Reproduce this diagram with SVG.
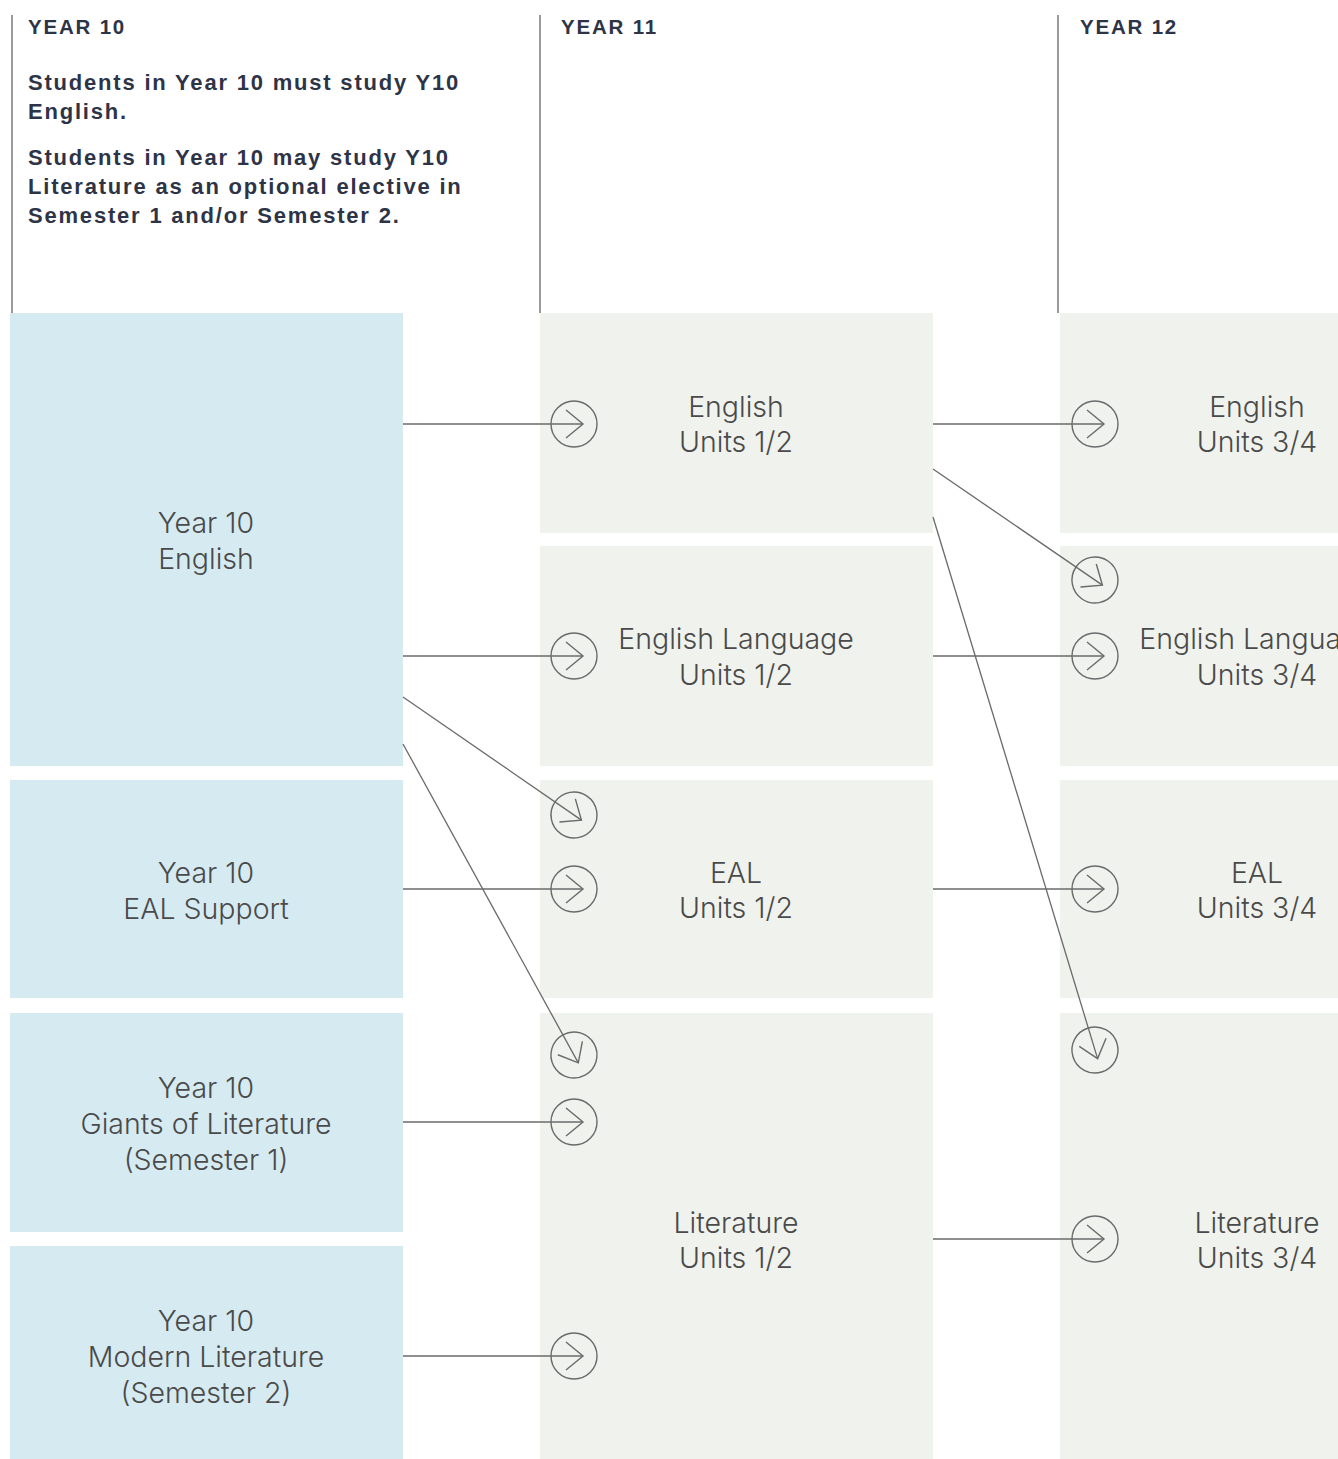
<svg xmlns="http://www.w3.org/2000/svg" width="1338" height="1459" viewBox="0 0 1338 1459">
<style>
.hdr{font-family:"Liberation Sans",Arial,sans-serif;font-weight:bold;font-size:20.5px;letter-spacing:1.8px;fill:#2e3447}
.note{font-family:"Liberation Sans",Arial,sans-serif;font-weight:bold;font-size:22px;letter-spacing:1.8px;fill:#2e3447}
.vline{stroke:#9a9a9a;stroke-width:2}
.y10{fill:#d6ebf1}
.sr{fill:#f0f2ed}
.lbl{font-family:Inter,"Liberation Sans",Arial,sans-serif;font-weight:300;font-size:28.5px;letter-spacing:0px;fill:#4a4a4a;text-anchor:middle}
.conn line{stroke:#6a6a6a;stroke-width:1.3;fill:none;marker-end:url(#circ)}
</style>
<defs>
<marker id="circ" markerUnits="userSpaceOnUse" orient="auto" refX="0" refY="0" markerWidth="60" markerHeight="60" style="overflow:visible">
<circle cx="-9" cy="0" r="23" fill="none" stroke="#6a6a6a" stroke-width="1.4"/>
<path d="M-17,-14 L0,0 L-17,14" fill="none" stroke="#6a6a6a" stroke-width="1.4"/>
</marker>
</defs>
<rect width="1338" height="1459" fill="#ffffff"/>

<g id="headers">
<line class="vline" x1="12" y1="15" x2="12" y2="313"/>
<line class="vline" x1="540" y1="15" x2="540" y2="313"/>
<line class="vline" x1="1058" y1="15" x2="1058" y2="313"/>
<text class="hdr" x="28" y="34">YEAR 10</text>
<text class="hdr" x="561" y="34">YEAR 11</text>
<text class="hdr" x="1080" y="34">YEAR 12</text>
<text class="note" x="28" y="90">Students in Year 10 must study Y10</text>
<text class="note" x="28" y="119">English.</text>
<text class="note" x="28" y="165">Students in Year 10 may study Y10</text>
<text class="note" x="28" y="194">Literature as an optional elective in</text>
<text class="note" x="28" y="223">Semester 1 and/or Semester 2.</text>
</g>

<g id="y10-english"><rect class="y10" x="10" y="313" width="393" height="453"/>
<text class="lbl" x="206" y="533">Year 10</text><text class="lbl" x="206" y="569">English</text></g>
<g id="y10-eal"><rect class="y10" x="10" y="780" width="393" height="218"/>
<text class="lbl" x="206" y="883">Year 10</text><text class="lbl" x="206" y="919">EAL Support</text></g>
<g id="y10-giants"><rect class="y10" x="10" y="1013" width="393" height="219"/>
<text class="lbl" x="206" y="1098">Year 10</text><text class="lbl" x="206" y="1134">Giants of Literature</text><text class="lbl" x="206" y="1170">(Semester 1)</text></g>
<g id="y10-modern"><rect class="y10" x="10" y="1246" width="393" height="213"/>
<text class="lbl" x="206" y="1331">Year 10</text><text class="lbl" x="206" y="1367">Modern Literature</text><text class="lbl" x="206" y="1403">(Semester 2)</text></g>

<g id="y11-english"><rect class="sr" x="540" y="313" width="393" height="220"/>
<text class="lbl" x="736" y="417">English</text><text class="lbl" x="736" y="452">Units 1/2</text></g>
<g id="y11-englang"><rect class="sr" x="540" y="546" width="393" height="220"/>
<text class="lbl" x="736" y="649">English Language</text><text class="lbl" x="736" y="685">Units 1/2</text></g>
<g id="y11-eal"><rect class="sr" x="540" y="780" width="393" height="218"/>
<text class="lbl" x="736" y="883">EAL</text><text class="lbl" x="736" y="918">Units 1/2</text></g>
<g id="y11-lit"><rect class="sr" x="540" y="1013" width="393" height="446"/>
<text class="lbl" x="736" y="1233">Literature</text><text class="lbl" x="736" y="1268">Units 1/2</text></g>

<g id="y12-english"><rect class="sr" x="1060" y="313" width="278" height="220"/>
<text class="lbl" x="1257" y="417">English</text><text class="lbl" x="1257" y="452">Units 3/4</text></g>
<g id="y12-englang"><rect class="sr" x="1060" y="546" width="278" height="220"/>
<text class="lbl" x="1257" y="649">English Language</text><text class="lbl" x="1257" y="685">Units 3/4</text></g>
<g id="y12-eal"><rect class="sr" x="1060" y="780" width="278" height="218"/>
<text class="lbl" x="1257" y="883">EAL</text><text class="lbl" x="1257" y="918">Units 3/4</text></g>
<g id="y12-lit"><rect class="sr" x="1060" y="1013" width="278" height="446"/>
<text class="lbl" x="1257" y="1233">Literature</text><text class="lbl" x="1257" y="1268">Units 3/4</text></g>

<g id="connectors" class="conn">
<line x1="403" y1="424" x2="583" y2="424"/>
<line x1="403" y1="656" x2="583" y2="656"/>
<line x1="403" y1="697" x2="581.4" y2="820.1"/>
<line x1="403" y1="889" x2="583" y2="889"/>
<line x1="403" y1="744" x2="578.3" y2="1062.9"/>
<line x1="403" y1="1122" x2="583" y2="1122"/>
<line x1="403" y1="1356" x2="583" y2="1356"/>
<line x1="933" y1="424" x2="1104" y2="424"/>
<line x1="933" y1="469" x2="1102.4" y2="585.1"/>
<line x1="933" y1="656" x2="1104" y2="656"/>
<line x1="933" y1="517" x2="1097.6" y2="1058.6"/>
<line x1="933" y1="889" x2="1104" y2="889"/>
<line x1="933" y1="1239" x2="1104" y2="1239"/>
</g>
</svg>
